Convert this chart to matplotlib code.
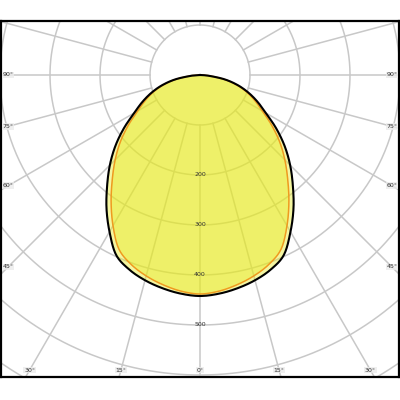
import numpy as np
import matplotlib.pyplot as plt

# luminous intensity (cd/klm) against gamma angle, one half of each plane
gamma = np.arange(0, 95, 5)
c0_c180 = [442, 439, 433, 425, 414, 397, 362, 326, 289, 255,
           221, 186, 152, 127, 103, 78, 50, 18, 0]
c90_c270 = [438, 434, 426, 416, 403, 384, 348, 310, 273, 240,
            208, 175, 144, 121, 99, 75, 48, 18, 0]

ring_values = [200, 300, 400, 500]
angle_ticks = [0, 15, 30, 45, 60, 75, 90]


def smooth(px, py, n=12):
    # Catmull-Rom through the measured points, only for drawing
    P = np.column_stack([np.asarray(px, float), np.asarray(py, float)])
    P = np.vstack([P[0], P, P[-1]])
    out = []
    s = np.linspace(0, 1, n, endpoint=False)[:, None]
    for i in range(1, len(P) - 2):
        p0, p1, p2, p3 = P[i - 1], P[i], P[i + 1], P[i + 2]
        seg = 0.5 * ((2 * p1) + (-p0 + p2) * s + (2 * p0 - 5 * p1 + 4 * p2 - p3) * s ** 2
                     + (-p0 + 3 * p1 - 3 * p2 + p3) * s ** 3)
        out.append(seg)
    out.append(P[-2][None, :])
    out = np.vstack(out)
    return out[:, 0], out[:, 1]


def curve_xy(values):
    g = np.concatenate([-gamma[::-1], gamma[1:]])
    v = np.concatenate([np.array(values)[::-1], np.array(values)[1:]])
    rad = np.deg2rad(g)
    return smooth(v * np.sin(rad), -v * np.cos(rad))


fig = plt.figure(figsize=(4, 4), dpi=100)
ax = fig.add_axes([0.0025, 0.0575, 0.995, 0.89])
ax.set_xlim(-398, 398)
ax.set_ylim(-604, 108)

# polar grid
t = np.linspace(0, 2 * np.pi, 500)
for r in range(100, 900, 100):
    ax.plot(r * np.sin(t), r * np.cos(t), color='#c8c8c8', lw=1.1, zorder=1)
for a in range(0, 360, 15):
    s, c = np.sin(np.deg2rad(a)), np.cos(np.deg2rad(a))
    ax.plot([100 * s, 1000 * s], [-100 * c, -1000 * c], color='#c8c8c8', lw=1.1, zorder=1)

# curves
xb, yb = curve_xy(c0_c180)
xo, yo = curve_xy(c90_c270)
ax.fill(xb, yb, color='#e7ea1d', alpha=0.42, lw=0, zorder=2)
ax.fill(xo, yo, color='#e7ea1d', alpha=0.42, lw=0, zorder=2)
ax.plot(xo, yo, color='#ef9a1f', lw=1.1, zorder=4)
ax.plot(xb, yb, color='black', lw=1.5, zorder=5)

# value labels on the vertical axis
for v in ring_values:
    ax.text(0, -v, str(v), fontsize=4.5, color='#333333', ha='center', va='center', zorder=3)

# angle labels along the frame
half_w, bottom = 384, 590
for a in angle_ticks:
    for side in ([1] if a == 0 else [-1, 1]):
        s, c = np.sin(np.deg2rad(a)), np.cos(np.deg2rad(a))
        cand = []
        if s > 1e-9:
            cand.append(half_w / s)
        if c > 1e-9:
            cand.append(bottom / c)
        d = min(cand)
        ax.text(side * d * s, -d * c, f'{a}°', fontsize=4.5, color='#333333',
                ha='center', va='center', zorder=6,
                bbox=dict(boxstyle='square,pad=0.15', fc='#ebebeb', ec='none', alpha=0.8))

ax.set_xticks([])
ax.set_yticks([])
for sp in ax.spines.values():
    sp.set_linewidth(1.6)
    sp.set_color('black')

fig.savefig('out.png', dpi=100)
